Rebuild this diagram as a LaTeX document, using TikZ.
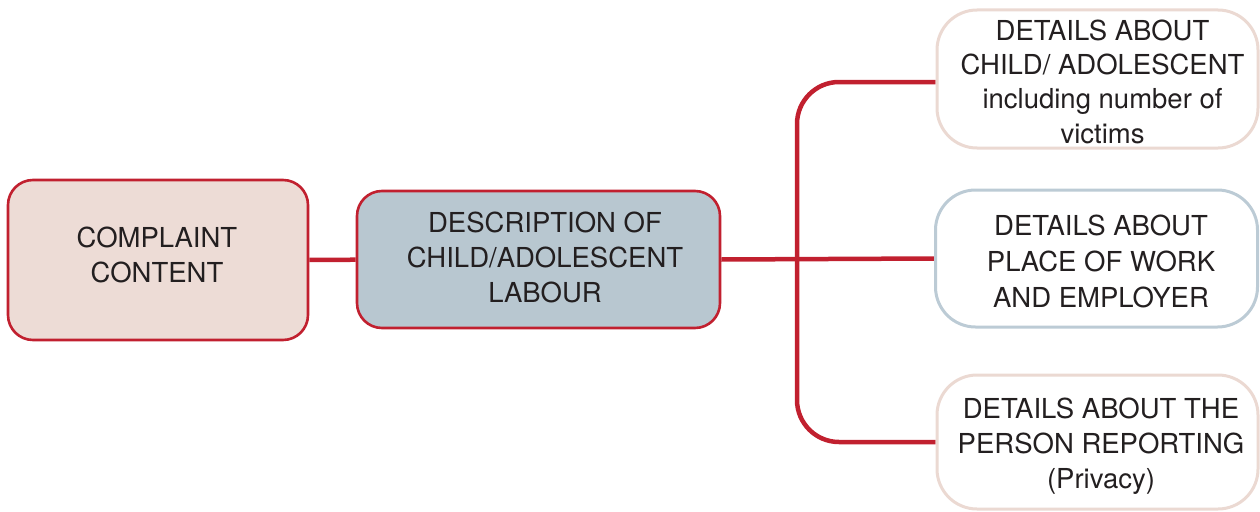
\documentclass[tikz,border=0pt]{standalone}
\usepackage{fontspec}
\setmainfont{TeX Gyre Heros}
\usetikzlibrary{backgrounds}
\definecolor{lred}{HTML}{C1202F}
\definecolor{pinkfill}{HTML}{EDDCD6}
\definecolor{bluefill}{HTML}{B8C7D0}
\definecolor{pinkline}{HTML}{EBD9D2}
\definecolor{blueline}{HTML}{BCCBD5}
\definecolor{txt}{HTML}{231F20}
\tikzset{
  boxbase/.style={inner sep=0pt},
  mainbox/.style={boxbase, draw=lred, line width=2.6pt, rounded corners=25pt},
  sidebox/.style={boxbase, fill=white, line width=3pt, rounded corners=40pt},
  label/.style={align=center, text=txt, inner sep=0pt, font=\fontsize{27.5}{34.8}\selectfont},
  conn/.style={draw=lred, line width=4.5pt}
}
\begin{document}
\begin{tikzpicture}[x=1pt,y=-1pt]
\useasboundingbox (0,0) rectangle (1260,511);
% boxes
\node[mainbox, fill=pinkfill, minimum width=300pt, minimum height=160pt] (cc) at (158,260) {};
\node[mainbox, fill=bluefill, minimum width=363pt, minimum height=137pt] (desc) at (538.5,259.5) {};
\node[sidebox, draw=pinkline, minimum width=321pt, minimum height=138pt] (top) at (1097.5,79) {};
\node[sidebox, draw=blueline, minimum width=322pt, minimum height=137pt] (midr) at (1096.5,258.5) {};
\node[sidebox, draw=pinkline, minimum width=321pt, minimum height=134pt] (bot) at (1097.5,442) {};
% texts
\node[label] (cct) at (157,255) {COMPLAINT\\CONTENT};
\node[label] (desct) at (545,257.5) {DESCRIPTION OF\\CHILD/ADOLESCENT\\LABOUR};
\node[label, font=\fontsize{27.5}{34.3}\selectfont] (topt) at (1102.5,81.5) {DETAILS ABOUT\\CHILD/ ADOLESCENT\\including number of\\victims};
\node[label, font=\fontsize{27.5}{36.3}\selectfont] (midrt) at (1101,261.5) {DETAILS ABOUT\\PLACE OF WORK\\AND EMPLOYER};
\node[label] (bott) at (1101,446) {DETAILS ABOUT THE\\PERSON REPORTING\\(Privacy)};
% connectors
\coordinate (trunk) at (797,259);
\begin{scope}[on background layer]
\draw[conn] (cc) -- (desc);
\draw[conn] (desc.east) -- (midr.west);
\draw[conn, rounded corners=42pt] ([yshift=-3pt]top.west) -| (bot.west -| trunk) -- (bot.west);
\end{scope}
\end{tikzpicture}
\end{document}
